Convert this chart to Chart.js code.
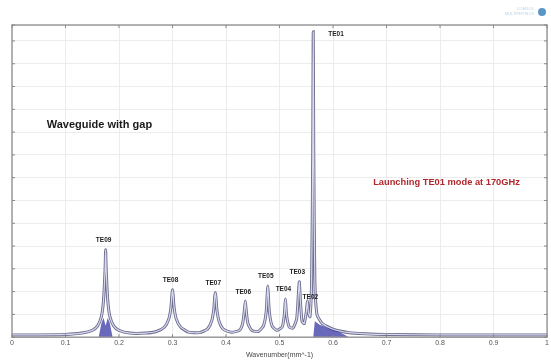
<!DOCTYPE html>
<html>
<head>
<meta charset="utf-8">
<script src="https://cdn.jsdelivr.net/npm/chart.js@4.4.0/dist/chart.umd.min.js"></script>
<style>
  html, body { margin: 0; padding: 0; background: #fff; }
  #wrap { position: relative; width: 551px; height: 364px; }
</style>
</head>
<body>
<div id="wrap"><canvas id="spectrum"></canvas></div>
<script>
// Spectrum (wavenumber in mm^-1, amplitude in grid units)
const wavenumber = [
  0, 0.05, 0.1, 0.13, 0.15, 0.16, 0.167, 0.171, 0.174, 0.175, 0.176, 0.179, 0.183, 0.19, 0.2,
  0.22, 0.25, 0.27, 0.285, 0.293, 0.297, 0.299, 0.3, 0.301, 0.303, 0.307, 0.315, 0.33,
  0.35, 0.365, 0.373, 0.377, 0.379, 0.38, 0.381, 0.383, 0.387, 0.395, 0.41,
  0.425, 0.431, 0.434, 0.436, 0.438, 0.441, 0.448, 0.46,
  0.47, 0.475, 0.477, 0.478, 0.479, 0.481, 0.486, 0.495,
  0.505, 0.509, 0.511, 0.513, 0.518, 0.525, 0.532, 0.535, 0.537, 0.539, 0.542, 0.546,
  0.55, 0.552, 0.554, 0.557, 0.56, 0.562, 0.563, 0.564, 0.566, 0.57, 0.58, 0.6, 0.63,
  0.66, 0.7, 0.8, 1.0
];
const amplitude = [
  0.1, 0.1, 0.12, 0.18, 0.3, 0.5, 0.9, 1.6, 3.0, 3.84, 3.0, 1.6, 0.9, 0.5, 0.3,
  0.18, 0.18, 0.25, 0.45, 0.8, 1.3, 1.9, 2.08, 1.9, 1.3, 0.8, 0.45, 0.22,
  0.2, 0.35, 0.7, 1.2, 1.8, 1.95, 1.8, 1.2, 0.7, 0.35, 0.22,
  0.3, 0.6, 1.1, 1.59, 1.1, 0.6, 0.3, 0.25,
  0.5, 1.1, 1.9, 2.25, 1.9, 1.1, 0.5, 0.3,
  0.45, 1.0, 1.68, 1.0, 0.45, 0.4, 0.8, 1.8, 2.43, 1.6, 0.7, 0.6,
  1.1, 1.6, 1.1, 0.9, 2.5, 8, 13.4, 8, 2.5, 1.0, 0.6, 0.35, 0.2,
  0.15, 0.12, 0.1, 0.1
];

// dark blue shading at the foot of TE09 and after TE01
const bandX = [0.162, 0.167, 0.171, 0.175, 0.179, 0.183, 0.188, 0.563, 0.566, 0.575, 0.59, 0.61, 0.63];
const bandY = [0, 0.6, 0.85, 0.5, 0.85, 0.6, 0, 0, 0.7, 0.55, 0.4, 0.25, 0];

// mode labels
const modeNames = ['TE09', 'TE08', 'TE07', 'TE06', 'TE05', 'TE04', 'TE03', 'TE02', 'TE01'];
const modePos = [0.175, 0.3, 0.38, 0.436, 0.478, 0.511, 0.537, 0.552, 0.563];
const modeHeight = [3.84, 2.08, 1.95, 1.59, 2.25, 1.68, 2.43, 1.6, 13.4];

const spectrumPoints = wavenumber.map((x, i) => ({ x: x, y: amplitude[i] }));
const bandPoints = bandX.map((x, i) => ({ x: x, y: bandY[i] }));

// texts and frame
const annotationPlugin = {
  id: 'annotations',
  afterDatasetsDraw(chart) {
    const ctx = chart.ctx;
    const xs = chart.scales.x;
    const ys = chart.scales.y;
    const area = chart.chartArea;
    ctx.save();

    // frame
    ctx.strokeStyle = '#9a9a9a';
    ctx.lineWidth = 1.5;
    ctx.strokeRect(area.left, area.top, area.right - area.left, area.bottom - area.top);

    // small ticks on all four sides
    ctx.lineWidth = 1;
    ctx.strokeStyle = '#888';
    xs.ticks.forEach(t => {
      const px = xs.getPixelForValue(t.value);
      ctx.beginPath(); ctx.moveTo(px, area.top); ctx.lineTo(px, area.top + 3); ctx.stroke();
      ctx.beginPath(); ctx.moveTo(px, area.bottom); ctx.lineTo(px, area.bottom - 3); ctx.stroke();
    });
    ys.ticks.forEach(t => {
      const py = ys.getPixelForValue(t.value);
      ctx.beginPath(); ctx.moveTo(area.left, py); ctx.lineTo(area.left + 3, py); ctx.stroke();
      ctx.beginPath(); ctx.moveTo(area.right, py); ctx.lineTo(area.right - 3, py); ctx.stroke();
    });

    // mode labels
    ctx.fillStyle = '#222';
    ctx.font = 'bold 6.5px "Liberation Sans", Arial, sans-serif';
    ctx.textBaseline = 'bottom';
    modeNames.forEach((name, i) => {
      const px = xs.getPixelForValue(modePos[i]);
      const py = ys.getPixelForValue(modeHeight[i]);
      if (name === 'TE01') {
        ctx.textAlign = 'left';
        ctx.fillText(name, px + 15, py + 6);
      } else if (name === 'TE02') {
        ctx.textAlign = 'center';
        ctx.fillText(name, px + 3, py);
      } else {
        ctx.textAlign = 'center';
        ctx.fillText(name, px - 2, py - 6);
      }
    });

    ctx.textBaseline = 'middle';
    ctx.textAlign = 'left';
    ctx.fillStyle = '#1a1a1a';
    ctx.font = 'bold 11px "Liberation Sans", Arial, sans-serif';
    ctx.fillText('Waveguide with gap', xs.getPixelForValue(0.065), ys.getPixelForValue(9.3));

    ctx.fillStyle = '#b0282c';
    ctx.font = 'bold 9.3px "Liberation Sans", Arial, sans-serif';
    ctx.fillText('Launching TE01 mode at 170GHz', xs.getPixelForValue(0.675), ys.getPixelForValue(6.8));

    // faint logo top right
    ctx.fillStyle = '#b8d4e6';
    ctx.font = '4px "Liberation Sans", Arial, sans-serif';
    ctx.textAlign = 'right';
    ctx.fillText('COMSOL', 534, 9);
    ctx.fillText('MULTIPHYSICS', 534, 14);
    ctx.fillStyle = '#5b97c4';
    ctx.beginPath(); ctx.arc(542, 12, 4, 0, Math.PI * 2); ctx.fill();
    ctx.restore();
  }
};

new Chart(document.getElementById('spectrum'), {
  type: 'line',
  data: {
    datasets: [
      {
        data: spectrumPoints,
        borderColor: '#d8d8ee',
        borderWidth: 1.2,
        pointRadius: 0,
        tension: 0.2,
        order: 1
      },
      {
        data: bandPoints,
        borderColor: 'rgba(60,60,170,0.0)',
        backgroundColor: 'rgba(55,55,165,0.75)',
        borderWidth: 0,
        pointRadius: 0,
        fill: 'origin',
        tension: 0,
        order: 2
      },
      {
        data: spectrumPoints,
        borderColor: '#6c6c8e',
        borderWidth: 3,
        pointRadius: 0,
        tension: 0.2,
        order: 3
      }
    ]
  },
  options: {
    responsive: true,
    maintainAspectRatio: false,
    animation: false,
    layout: { padding: { left: 12, right: 3, top: 25, bottom: 5 } },
    plugins: { legend: { display: false }, tooltip: { enabled: false } },
    scales: {
      x: {
        type: 'linear',
        min: 0,
        max: 1,
        ticks: {
          stepSize: 0.1,
          color: '#555',
          font: { size: 7, family: '"Liberation Sans", Arial, sans-serif' },
          padding: 2,
          callback: v => String(Number(v.toFixed(1)))
        },
        grid: { color: '#ececec', drawTicks: false },
        border: { display: false },
        title: { display: true, text: 'Wavenumber(mm^-1)', color: '#444', font: { size: 7, family: '"Liberation Sans", Arial, sans-serif' }, padding: { top: 1, bottom: 0 } }
      },
      y: {
        type: 'linear',
        min: 0,
        max: 13.7,
        ticks: { display: false, stepSize: 1 },
        grid: { color: '#ececec', drawTicks: false },
        border: { display: false }
      }
    }
  },
  plugins: [annotationPlugin]
});
</script>
</body>
</html>
